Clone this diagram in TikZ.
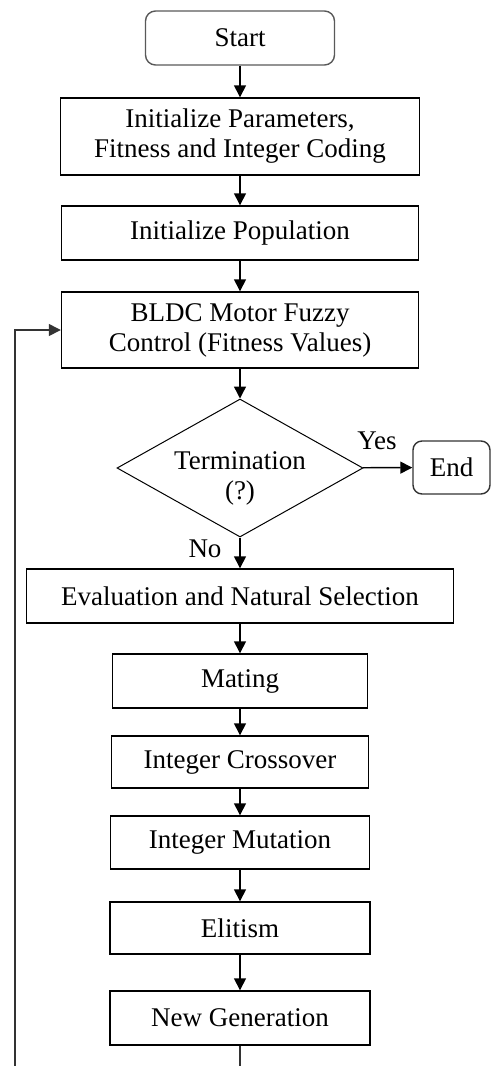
\documentclass[tikz,border=0pt]{standalone}
\usepackage{fontspec}
\setmainfont{Liberation Serif}
\usetikzlibrary{shapes.geometric,arrows.meta}
\begin{document}
\begin{tikzpicture}[x=1pt,y=-1pt,line width=1.4pt,
    font=\fontsize{27}{30}\selectfont]
        \useasboundingbox (0,0) rectangle (492,1066);
        \begin{scope}[every node/.style={draw,rectangle,align=center,inner sep=0pt,minimum height=54pt}]
          \node[rounded corners=10pt,draw=black!65,minimum width=189pt] at (240,38) (start){Start};
          \node[minimum width=359pt,minimum height=77pt] at (240,136.5) (init){Initialize Parameters,\\Fitness and Integer Coding};
          \node[minimum width=357pt] at (240,233) (pop){Initialize Population};
          \node[minimum width=357pt,minimum height=76pt] at (240,330) (bldc){BLDC Motor Fuzzy\\Control (Fitness Values)};
          \node[diamond,line width=1pt,minimum width=246pt,minimum height=138pt,aspect=1.78] at (240,468) (term){};
          \node[rounded corners=9pt,draw=black!80,minimum width=77pt,minimum height=53pt] at (451.5,467.5) (end){End};
          \node[minimum width=427pt] at (240,596) (eval){Evaluation and Natural Selection};
          \node[minimum width=255pt] at (240,681) (mate){Mating};
          \node[minimum width=257pt,minimum height=52pt] at (240,762) (cross){Integer Crossover};
          \node[minimum width=259pt,minimum height=53pt] at (240,842.5) (mut){Integer Mutation};
          \node[minimum width=260pt,minimum height=52pt] at (240,928) (elit){Elitism};
          \node[minimum width=260pt] at (240,1018) (newgen){New Generation};
        \end{scope}

        % question text sits a little low in the diamond
        \node[align=center,inner sep=0pt] at (240,478) (termtext){Termination\\(?)};

        % branch labels
        \node at (377,441) (yes){Yes};
        \node at (205,549) (no){No};

        % the loop runs below the page edge
        \coordinate (loopR) at (240,1080);
        \coordinate (loopL) at (15,1080);

        \begin{scope}[-{Triangle[length=12pt,width=12pt]}]
          \path (start) edge (init);
          \path (init) edge (pop);
          \path (pop) edge (bldc);
          \path (bldc) edge (term);
          \path (term) edge (end) edge (eval);
          \path (eval) edge (mate);
          \path (mate) edge (cross);
          \path (cross) edge (mut);
          \path (mut) edge (elit);
          \path (elit) edge (newgen);
          \draw[black!80] (newgen) -- (loopR) -- (loopL) |- (bldc.west);
        \end{scope}
      \end{tikzpicture}
\end{document}
